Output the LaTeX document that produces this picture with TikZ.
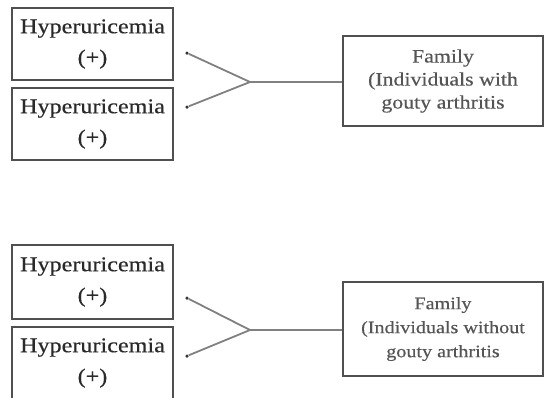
\documentclass[tikz,border=0pt]{standalone}
\usepackage{fontspec}
\setmainfont{Liberation Serif}[FakeStretch=1.15, FakeBold=0.4]
\definecolor{boxline}{HTML}{505050}
\definecolor{linkline}{HTML}{808080}
\definecolor{labeltext}{HTML}{2A2A2A}

\begin{document}
\begin{tikzpicture}[x=1pt, y=-1pt,
		hyperbox/.style={draw=boxline, line width=1.4pt, minimum width=161pt, inner sep=0pt,
			align=center, text=labeltext, font=\fontsize{21}{31}\selectfont},
		familybox/.style={draw=boxline, line width=1.4pt, minimum width=200pt, inner sep=0pt,
			align=center, text=labeltext!80},
		link/.style={draw=linkline, line width=1.8pt},
		tipdot/.style={fill=black!80, circle, inner sep=0pt, minimum size=3.5pt}]
		\useasboundingbox (0, 0) rectangle (544, 397);
		
		% upper group
		\node[hyperbox, minimum height=72pt] (hypA) at (92.5, 44) {Hyperuricemia\\(+)};
		\node[hyperbox, minimum height=72pt] (hypB) at (92.5, 124) {Hyperuricemia\\(+)};
		\node[familybox, minimum height=90pt, font=\fontsize{19}{23}\selectfont] (famA) at (443, 81) {Family\\(Individuals with\\gouty arthritis};
		
		\node[tipdot] (dotA) at (187, 53) {};
		\node[tipdot] (dotB) at (187, 107) {};
		\coordinate (joinA) at (250, 82);
		
		\draw[link] (dotA) -- (joinA) -- (dotB);
		\draw[link] (joinA) -- (famA.west |- joinA);
		
		% lower group
		\node[hyperbox, minimum height=74pt] (hypC) at (92.5, 282) {Hyperuricemia\\(+)};
		\node[hyperbox, minimum height=72pt] (hypD) at (92.5, 363) {Hyperuricemia\\(+)};
		\node[familybox, minimum height=94pt, font=\fontsize{17.5}{24}\selectfont] (famB) at (443, 329) {Family\\(Individuals without\\gouty arthritis};
		
		\node[tipdot] (dotC) at (187, 298) {};
		\node[tipdot] (dotD) at (187, 356) {};
		\coordinate (joinB) at (250, 330);
		
		\draw[link] (dotC) -- (joinB) -- (dotD);
		\draw[link] (joinB) -- (famB.west |- joinB);
	\end{tikzpicture}
\end{document}
